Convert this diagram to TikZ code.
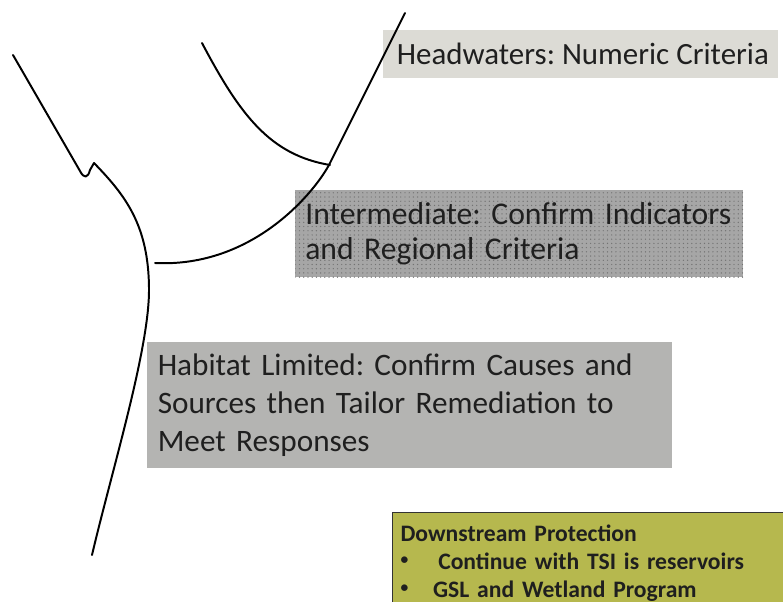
\documentclass[tikz,border=0pt]{standalone}
\usepackage{fontspec}
\setmainfont{Carlito}
\frenchspacing
\usetikzlibrary{patterns}
\definecolor{headfill}{HTML}{DCDBD5}
\definecolor{midfill}{HTML}{A6A6A6}
\definecolor{habfill}{HTML}{B4B4B2}
\definecolor{downfill}{HTML}{B6B84E}
\newcommand{\dsbullet}{\raisebox{0.22em}{\fontsize{11}{11}\selectfont\textbullet}}

\begin{document}
\begin{tikzpicture}[x=0.025cm, y=-0.025cm,
		stream/.style={line width=1.4pt, line cap=round, line join=round},
		zonebox/.style={anchor=north west, inner xsep=0.25cm, inner ysep=0pt, align=left, text=black!88}]
		%%%%% START %%%%%
		
		\clip (0, 0) rectangle (783, 602);
		
		% zone labels
		\node[anchor=north west, inner sep=0pt, text=black!88, fill=headfill, minimum width=9.875cm, minimum height=1.2cm,
			font=\fontsize{22}{25}\selectfont] (head) at (383, 30) {\hspace{0.1cm}Headwaters: Numeric Criteria};
		\node[zonebox, fill=midfill, postaction={pattern=dots, pattern color=black!55},
			minimum width=11.2cm, minimum height=2.175cm, text width=10.7cm,
			font=\fontsize{22.5}{25}\selectfont] (mid) at (295, 190) {Intermediate: Confirm Indicators\\and Regional Criteria};
		\node[zonebox, fill=habfill, minimum width=13.125cm, minimum height=3.15cm, text width=12.6cm,
			font=\fontsize{22.2}{27}\selectfont] (hab) at (147, 342) {Habitat Limited: Confirm Causes and\\Sources then Tailor Remediation to\\Meet Responses};
		
		\node[zonebox, draw=black!80, line width=0.8pt, fill=downfill, inner xsep=0.2cm, inner ysep=0.3cm,
			text width=9.6cm, font=\bfseries\fontsize{16.8}{20}\selectfont] (down) at (392, 512)
			{Downstream Protection\\
			\dsbullet\hspace{0.75cm}Continue with TSI is reservoirs\\
			\dsbullet\hspace{0.62cm}GSL and Wetland Program};
		
		% stream lines
		\draw[stream] (13, 55) -- (80, 171) .. controls (84, 179) and (88, 178) .. (90, 170) -- (94, 163)
			.. controls (125, 195) and (149, 225) .. (149, 290)
			.. controls (149, 350) and (112, 470) .. (92, 555);
		\draw[stream] (202, 43) .. controls (240, 115) and (270, 155) .. (330, 165);
		\draw[stream] (155, 263) .. controls (255, 268) and (317, 189) .. (330, 163) -- (405, 13);
		
		%%%%% END %%%%%
	\end{tikzpicture}
\end{document}
